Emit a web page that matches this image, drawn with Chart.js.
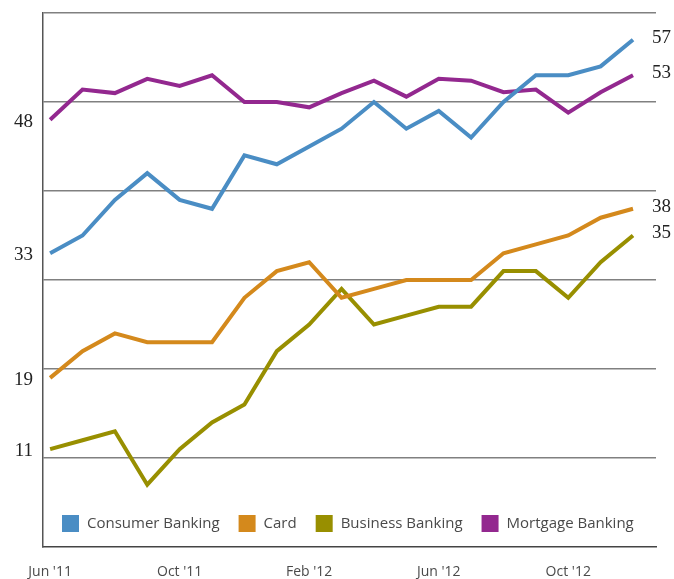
<!DOCTYPE html>
<html>
<head>
<meta charset="utf-8">
<script src="https://cdn.jsdelivr.net/npm/chart.js@4"></script>
<style>
  html, body { margin: 0; padding: 0; background: #fff; }
  #wrap { width: 674px; height: 579px; position: relative; }
</style>
</head>
<body>
<div id="wrap"><canvas id="grafico"></canvas></div>
<script>
// months Jun '11 .. Dec '12
const meses = ["Jun '11", "Jul '11", "Aug '11", "Sep '11", "Oct '11", "Nov '11", "Dec '11",
  "Jan '12", "Feb '12", "Mar '12", "Apr '12", "May '12", "Jun '12", "Jul '12",
  "Aug '12", "Sep '12", "Oct '12", "Nov '12", "Dec '12"];

const consumerBanking = [33, 35, 39, 42, 39, 38, 44, 43, 45, 47, 50, 47, 49, 46, 50, 53, 53, 54, 57];
const card            = [19, 22, 24, 23, 23, 23, 28, 31, 32, 28, 29, 30, 30, 30, 33, 34, 35, 37, 38];
const businessBanking = [11, 12, 13, 7, 11, 14, 16, 22, 25, 29, 25, 26, 27, 27, 31, 31, 28, 32, 35];
const mortgageBanking = [48, 51.4, 51, 52.6, 51.8, 53, 50, 50, 49.4, 51, 52.4, 50.6, 52.6, 52.4, 51.1, 51.4, 48.8, 51.1, 53];

const nomes = ['Consumer Banking', 'Card', 'Business Banking', 'Mortgage Banking'];
const cores = ['#4a8dc4', '#d4891c', '#988f00', '#93288f'];
const marcasX = [0, 4, 8, 12, 16];

function pontos(valores) {
  return valores.map((v, i) => ({ x: i, y: v }));
}

// labels at start / end of each line + legend inside the plot
const rotulosPlugin = {
  id: 'rotulos',
  afterDatasetsDraw(chart) {
    const ctx = chart.ctx;
    const xs = chart.scales.x;
    const ys = chart.scales.y;
    ctx.save();
    ctx.font = '19px "Liberation Serif"';
    ctx.fillStyle = '#222';
    ctx.textBaseline = 'middle';
    chart.data.datasets.forEach(ds => {
      const primeiro = ds.data[0];
      const ultimo = ds.data[ds.data.length - 1];
      ctx.textAlign = 'right';
      ctx.fillText(String(Math.round(primeiro.y)), 33, ys.getPixelForValue(primeiro.y) + 2);
      ctx.textAlign = 'left';
      ctx.fillText(String(Math.round(ultimo.y)), xs.getPixelForValue(ultimo.x) + 19, ys.getPixelForValue(ultimo.y) - 2);
    });

    // legend
    ctx.font = '15px "Open Sans"';
    ctx.textAlign = 'left';
    let x = 62;
    const y = 523;
    chart.data.datasets.forEach(ds => {
      ctx.fillStyle = ds.borderColor;
      ctx.fillRect(x, y - 8, 17, 17);
      x += 25;
      ctx.fillStyle = '#4a4a4a';
      ctx.fillText(ds.label, x, y + 1);
      x += ctx.measureText(ds.label).width + 19;
    });
    ctx.restore();
  }
};

const datasets = [consumerBanking, card, businessBanking, mortgageBanking].map((serie, i) => ({
  label: nomes[i],
  data: pontos(serie),
  borderColor: cores[i],
  backgroundColor: cores[i],
  borderWidth: 4,
  pointRadius: 0,
  tension: 0,
  fill: false
}));

new Chart(document.getElementById('grafico'), {
  type: 'line',
  data: { datasets: datasets },
  plugins: [rotulosPlugin],
  options: {
    responsive: true,
    maintainAspectRatio: false,
    animation: false,
    layout: { padding: { left: 43, right: 18, top: 13, bottom: 0 } },
    plugins: {
      legend: { display: false },
      tooltip: { enabled: false }
    },
    scales: {
      x: {
        type: 'linear',
        min: -0.22,
        max: 18.71,
        afterBuildTicks(axis) {
          axis.ticks = marcasX.map(v => ({ value: v }));
        },
        afterFit(axis) { axis.height = 32; },
        grid: { display: false, drawTicks: false },
        border: { display: true, color: '#444', width: 1.5 },
        ticks: {
          padding: 17,
          maxRotation: 0,
          color: '#4a4a4a',
          font: { family: 'Open Sans', size: 14 },
          callback: v => meses[v]
        }
      },
      y: {
        min: 0,
        max: 60,
        afterBuildTicks(axis) {
          axis.ticks = [10, 20, 30, 40, 50, 60].map(v => ({ value: v }));
        },
        afterFit(axis) { axis.width = 0; },
        grid: { color: '#808080', lineWidth: 1.5, drawTicks: false },
        border: { display: true, color: '#555', width: 1.5 },
        ticks: { display: false }
      }
    }
  }
});
</script>
</body>
</html>
